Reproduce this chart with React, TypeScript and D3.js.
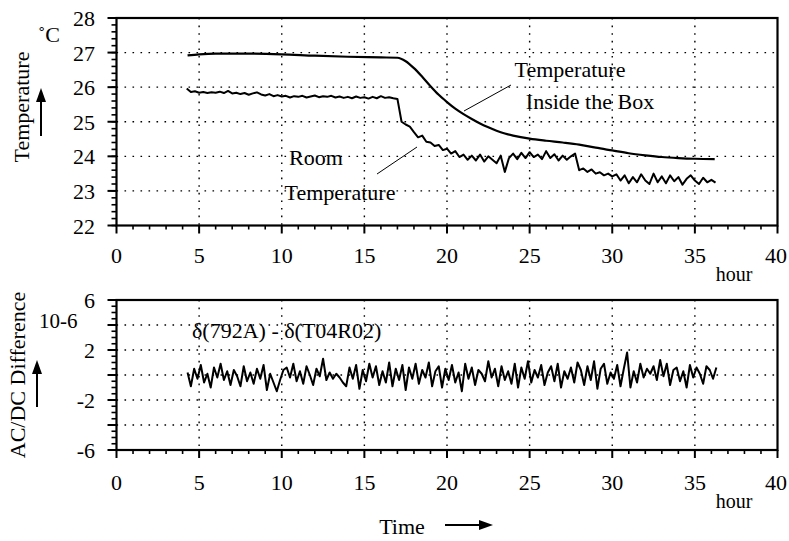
import { useEffect } from "react";
import * as d3 from "d3";

// tick values
const hourTicks = [0, 5, 10, 15, 20, 25, 30, 35, 40];
const tempTicks = [22, 23, 24, 25, 26, 27, 28];
const diffGrid = [-4, -2, 0, 2, 4];
const diffLabels = [-6, -2, 2, 6];

// temperature inside the box (smooth)
const insideHours = [4.3, 5, 6, 8, 10, 12, 14, 16, 17, 17.5, 18, 18.5, 19, 19.5, 20, 20.5, 21, 21.5, 22, 22.5, 23, 23.5, 24, 25, 26, 27, 28, 29, 30, 31, 32, 33, 34, 35, 36.2];
const insideTemp = [26.92, 26.95, 26.97, 26.97, 26.95, 26.91, 26.88, 26.86, 26.85, 26.75, 26.55, 26.3, 26.03, 25.78, 25.57, 25.38, 25.22, 25.08, 24.95, 24.84, 24.74, 24.66, 24.6, 24.51, 24.45, 24.4, 24.34, 24.25, 24.17, 24.09, 24.03, 23.98, 23.95, 23.93, 23.92];

// room temperature, sampled every 0.25 h from 4.25 h
const roomStart = 4.25;
const roomStep = 0.25;
const roomTemp = [
  25.96, 25.86, 25.88, 25.84, 25.86, 25.83, 25.85, 25.84, 25.87, 25.83,
  25.89, 25.82, 25.84, 25.80, 25.83, 25.78, 25.82, 25.85, 25.79, 25.76,
  25.80, 25.74, 25.77, 25.73, 25.75, 25.70, 25.74, 25.72, 25.75, 25.70,
  25.73, 25.76, 25.71, 25.74, 25.72, 25.75, 25.70, 25.73, 25.69, 25.72,
  25.68, 25.73, 25.69, 25.71, 25.67, 25.72, 25.68, 25.74, 25.69, 25.71,
  25.68, 25.66,
  25.00, 24.92, 24.86, 24.70, 24.55, 24.60, 24.42, 24.40, 24.30, 24.33,
  24.18, 24.22, 24.08, 24.15, 23.98, 24.05, 23.90, 24.02, 23.88, 24.05,
  23.85, 24.00, 23.90, 23.80, 24.02, 23.55, 23.95, 24.08, 23.92, 24.10,
  23.95, 24.12, 23.98, 24.05, 23.92, 24.15, 23.95, 24.06, 23.88, 24.02,
  23.90, 24.00, 24.08, 23.60, 23.65, 23.55, 23.62, 23.50, 23.54, 23.45,
  23.50, 23.42, 23.48, 23.30, 23.45, 23.22, 23.40, 23.25, 23.48, 23.30,
  23.20, 23.50, 23.25, 23.42, 23.22, 23.45, 23.28, 23.40, 23.18, 23.35,
  23.45, 23.30, 23.20, 23.38, 23.25, 23.32, 23.24,
];

// AC/DC difference (1e-6), sampled every 0.2 h from 4.3 h
const diffStart = 4.3;
const diffStep = 0.2;
const acdcDiff = [
  0.2, -0.9, 0.5, -0.3, 0.8, -0.6, 0.1, -1.0, 0.6, -0.2,
  0.9, -0.4, 0.3, -0.8, 0.4, -0.1, -0.9, 0.7, -0.5, 0.2,
  -0.7, 0.5, -0.3, 0.8, -1.2, 0.1, -0.6, -1.3, -0.4, 0.4,
  0.6, -0.2, 0.9, -0.5, 0.3, -0.7, 0.7, 0.0, -0.8, 0.5,
  -0.1, 1.3, -0.4, 0.2, -0.3, 0.1, -0.2, -0.6, -0.9, 0.6,
  -0.3, 0.8, -1.1, 0.4, -0.5, 0.9, -0.2, 0.7, -0.8, 0.3,
  -0.6, 1.0, -0.9, 0.5, -0.4, 0.8, -1.2, 0.6, -0.3, 0.9,
  -0.7, 0.4, -0.2, 1.0, -0.9, 0.3, 0.7, -1.0, 0.5, -0.4,
  0.8, -0.6, 0.2, -1.3, 0.9, -0.3, 0.6, -0.8, 0.4, 0.1,
  -0.5, 1.1, -0.2, 0.5, -0.9, 0.7, -0.4, 0.3, -0.7, 0.9,
  -1.0, 0.6, -0.3, 1.1, -0.6, 0.4, -0.2, 0.8, -0.8, 0.2,
  0.7, -0.5, 0.9, -1.0, 0.3, -0.3, 0.6, -0.6, 1.0, 0.4,
  -0.8, 0.7, -0.4, 1.1, -1.1, 0.5, 0.9, -0.7, 0.2, -0.3,
  0.8, -0.9, 0.5, 1.8, -1.0, 0.3, -0.6, 0.9, -0.2, 0.5,
  0.1, 0.7, -0.4, 1.2, -0.1, 0.9, -0.8, 0.4, 0.6, -0.5,
  0.3, -1.0, 0.8, -0.2, 0.6, 0.1, -0.7, 0.7, 0.4, -0.3,
  0.6,
];

const W = 789;
const H = 541;
const FONT = "Liberation Serif";

const x = d3.scaleLinear().domain([0, 40]).range([116.5, 777.5]);
const yTemp = d3.scaleLinear().domain([22, 28]).range([225.5, 18]);
const yDiff = d3.scaleLinear().domain([-6, 6]).range([450, 300]);

function Frame({ y, grid, minor, major, labels, labelBaseline }: any) {
  const [y0, y1] = y.range();
  const x0 = x(0);
  const x1 = x(40);
  const minorX = d3.range(0, 41, 1);
  return (
    <g>
      {/* dotted grid */}
      {hourTicks.slice(1, -1).map((h) => (
        <line key={"gv" + h} x1={x(h)} x2={x(h)} y1={y1} y2={y0} stroke="#000" strokeWidth={1.4} strokeDasharray="1.6,6" />
      ))}
      {grid.map((v: number) => (
        <line key={"gh" + v} x1={x0} x2={x1} y1={y(v)} y2={y(v)} stroke="#000" strokeWidth={1.4} strokeDasharray="1.6,6.4" />
      ))}
      {/* y ticks */}
      {minor.map((v: number) => (
        <line key={"ym" + v} x1={x0 - 5} x2={x0} y1={y(v)} y2={y(v)} stroke="#000" strokeWidth={1.6} />
      ))}
      {major.map((v: number) => (
        <line key={"yM" + v} x1={x0 - 9} x2={x0} y1={y(v)} y2={y(v)} stroke="#000" strokeWidth={2} />
      ))}
      {/* x ticks */}
      {minorX.map((h) => (
        <line key={"xm" + h} x1={x(h)} x2={x(h)} y1={y0} y2={y0 + (h % 5 === 0 ? 8 : 4)} stroke="#000" strokeWidth={h % 5 === 0 ? 2 : 1.6} />
      ))}
      <rect x={x0} y={y1} width={x1 - x0} height={y0 - y1} fill="none" stroke="#000" strokeWidth={2.2} />
      {labels.map((v: number) => (
        <text key={"yl" + v} x={95} y={y(v) + 8} textAnchor="end" fontSize={22} fontFamily={FONT}>
          {v}
        </text>
      ))}
      {hourTicks.map((h) => (
        <text key={"xl" + h} x={Math.min(x(h), 776)} y={labelBaseline} textAnchor="middle" fontSize={22} fontFamily={FONT}>
          {h}
        </text>
      ))}
      <text x={734} y={labelBaseline + 18} textAnchor="middle" fontSize={20} fontFamily={FONT}>
        hour
      </text>
    </g>
  );
}

export default function App() {
  useEffect(() => {
    document.body.style.margin = "0";
  }, []);

  const insideLine = d3
    .line<number>()
    .x((_, i) => x(insideHours[i]))
    .y((d) => yTemp(d))
    .curve(d3.curveMonotoneX)(insideTemp);
  const roomLine = d3
    .line<number>()
    .x((_, i) => x(roomStart + i * roomStep))
    .y((d) => yTemp(d))(roomTemp);
  const diffLine = d3
    .line<number>()
    .x((_, i) => x(diffStart + i * diffStep))
    .y((d) => yDiff(d))(acdcDiff);

  const tempMinor = d3.range(22, 28.01, 0.2).map((v) => +v.toFixed(1));
  const diffMinor = d3.range(-6, 6.01, 0.5);

  return (
    <svg width={W} height={H} style={{ position: "fixed", left: 0, top: 0, background: "#fff" }}>
      <rect width={W} height={H} fill="#fff" />
      {/* top panel */}
      <Frame y={yTemp} grid={[23, 24, 25, 26, 27]} minor={tempMinor} major={tempTicks} labels={tempTicks} labelBaseline={263} />
      <path d={roomLine ?? ""} fill="none" stroke="#000" strokeWidth={2} strokeLinejoin="round" />
      <path d={insideLine ?? ""} fill="none" stroke="#000" strokeWidth={2.2} />
      <text x={570} y={77} textAnchor="middle" fontSize={22} fontFamily={FONT}>Temperature</text>
      <text x={590} y={109} textAnchor="middle" fontSize={22} fontFamily={FONT}>Inside the Box</text>
      <line x1={511} y1={85} x2={464} y2={111} stroke="#000" strokeWidth={1} />
      <text x={316} y={165} textAnchor="middle" fontSize={22} fontFamily={FONT}>Room</text>
      <text x={340} y={200} textAnchor="middle" fontSize={22} fontFamily={FONT}>Temperature</text>
      <line x1={377} y1={174} x2={417} y2={147} stroke="#000" strokeWidth={1} />
      <text x={38} y={42} fontSize={22} fontFamily={FONT}>˚C</text>
      <text transform="translate(29,107) rotate(-90)" textAnchor="middle" fontSize={22} fontFamily={FONT}>Temperature</text>
      <line x1={41} y1={136} x2={41} y2={100} stroke="#000" strokeWidth={2} />
      <path d="M41,88 L36,102 L46,102 Z" fill="#000" />

      {/* bottom panel */}
      <Frame y={yDiff} grid={diffGrid} minor={diffMinor} major={[-6, -4, -2, 0, 2, 4, 6]} labels={diffLabels} labelBaseline={490} />
      <path d={diffLine ?? ""} fill="none" stroke="#000" strokeWidth={2} strokeLinejoin="round" />
      <text x={192} y={338} fontSize={22} fontFamily={FONT}>δ(792A) - δ(T04R02)</text>
      <text x={39} y={328} fontSize={21} fontFamily={FONT}>10-6</text>
      <text transform="translate(25,375) rotate(-90)" textAnchor="middle" fontSize={22} fontFamily={FONT}>AC/DC Difference</text>
      <line x1={37} y1={407} x2={37} y2={372} stroke="#000" strokeWidth={2} />
      <path d="M37,360 L32,374 L42,374 Z" fill="#000" />
      <text x={402} y={534} textAnchor="middle" fontSize={22} fontFamily={FONT}>Time</text>
      <line x1={445} y1={525} x2={480} y2={525} stroke="#000" strokeWidth={2} />
      <path d="M493,525 L479,520 L479,530 Z" fill="#000" />
    </svg>
  );
}
